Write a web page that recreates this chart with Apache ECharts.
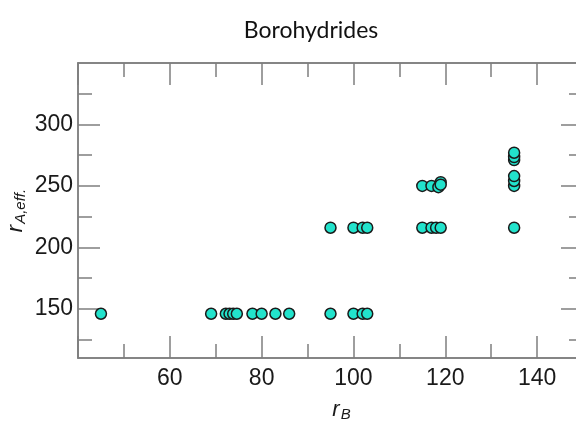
<!DOCTYPE html>
<html><head><meta charset="utf-8">
<script src="https://cdn.jsdelivr.net/npm/echarts@6/dist/echarts.min.js"></script>
<style>html,body{margin:0;padding:0;background:#fff}#c{width:576px;height:421px}</style>
</head><body><div id="c"></div>
<script>
const chartTitle = 'Borohydrides';
const xMajorTicks = [40, 60, 80, 100, 120, 140];
const xMinorTicks = [50, 70, 90, 110, 130, 150];
const xTickLabels = [60, 80, 100, 120, 140];
const yMajorTicks = [150, 200, 250, 300];
const yMinorTicks = [125, 175, 225, 275, 325];
const yTickLabels = [150, 200, 250, 300];
const rB = [45, 69, 72.2, 73, 73.8, 74.6, 78, 80, 83, 86, 95, 100, 102, 103,
            95, 100, 102, 103, 115, 117, 118, 119,
            115, 117, 118.5, 119, 119,
            135, 135, 135, 135, 135, 135, 135];
const rAeff = [146, 146, 146, 146, 146, 146, 146, 146, 146, 146, 146, 146, 146, 146,
               216, 216, 216, 216, 216, 216, 216, 216,
               250, 250, 249, 253, 251,
               216, 250, 254, 258, 271, 273.5, 277];

const points = rB.map((x, i) => [x, rAeff[i]]);
const FONT = "'Liberation Sans', Arial, Helvetica, sans-serif";
const lineStyle = {color: '#7f7f7f', width: 1.5};
const tickStyle = {color: '#7f7f7f', width: 1.5};
const labelFont = {fontFamily: FONT, fontSize: 23, color: '#1a1a1a'};

function xAx(pos, vals, len, labels, extra) {
  return Object.assign({
    type: 'value', position: pos, min: 40, max: 150, gridIndex: 0,
    axisLine: {show: true, onZero: false, lineStyle},
    axisTick: {show: true, inside: true, length: len, customValues: vals, lineStyle: tickStyle},
    axisLabel: labels ? Object.assign({show: true, margin: 9, customValues: labels}, labelFont) : {show: false},
    splitLine: {show: false}
  }, extra || {});
}
function yAx(pos, vals, len, labels, extra) {
  return Object.assign({
    type: 'value', position: pos, min: 110, max: 350, gridIndex: 0,
    axisLine: {show: true, onZero: false, lineStyle},
    axisTick: {show: true, inside: true, length: len, customValues: vals, lineStyle: tickStyle},
    axisLabel: labels ? Object.assign({show: true, margin: 5, customValues: labels}, labelFont) : {show: false},
    splitLine: {show: false}
  }, extra || {});
}
const italic = {fontFamily: FONT, fontStyle: 'italic', fontSize: 22, color: '#1a1a1a'};
const sub = {fontFamily: FONT, fontStyle: 'italic', fontSize: 15, color: '#1a1a1a', padding: [10, 0, 0, 1]};

const chart = echarts.init(document.getElementById('c'), null, {renderer: 'canvas'});
chart.setOption({
  animation: false,
  grid: {left: 78, top: 63, bottom: 63, right: -7, containLabel: false, outerBoundsMode: 'none'},
  graphic: [{type: 'text', x: 311, y: 31,
    style: {text: chartTitle, fontFamily: 'Lato', fontSize: 23, fill: '#111', align: 'center', verticalAlign: 'middle'}}],
  xAxis: [
    xAx('bottom', xMajorTicks, 22, xTickLabels, {
      name: '{r|r}{s|B}', nameLocation: 'middle', nameGap: 39, nameMoveOverlap: false,
      nameTextStyle: {padding: [0, 0, 0, 22], rich: {r: italic, s: sub}}
    }),
    xAx('bottom', xMinorTicks, 14, null),
    xAx('top', xMajorTicks, 22, null),
    xAx('top', xMinorTicks, 14, null)
  ],
  yAxis: [
    yAx('left', yMajorTicks, 22, yTickLabels, {
      name: '{r|r}{s|A,eff.}', nameLocation: 'middle', nameGap: 50, nameRotate: 90, nameMoveOverlap: false,
      nameTextStyle: {rich: {r: italic, s: sub}}
    }),
    yAx('left', yMinorTicks, 14, null),
    yAx('right', yMajorTicks, 22, null),
    yAx('right', yMinorTicks, 14, null)
  ],
  series: [{
    type: 'scatter', xAxisIndex: 0, yAxisIndex: 0,
    data: points, symbol: 'circle', symbolSize: 11,
    itemStyle: {color: '#22e3cc', borderColor: '#1a1a1a', borderWidth: 1.5, opacity: 1}
  }]
});
</script></body></html>
